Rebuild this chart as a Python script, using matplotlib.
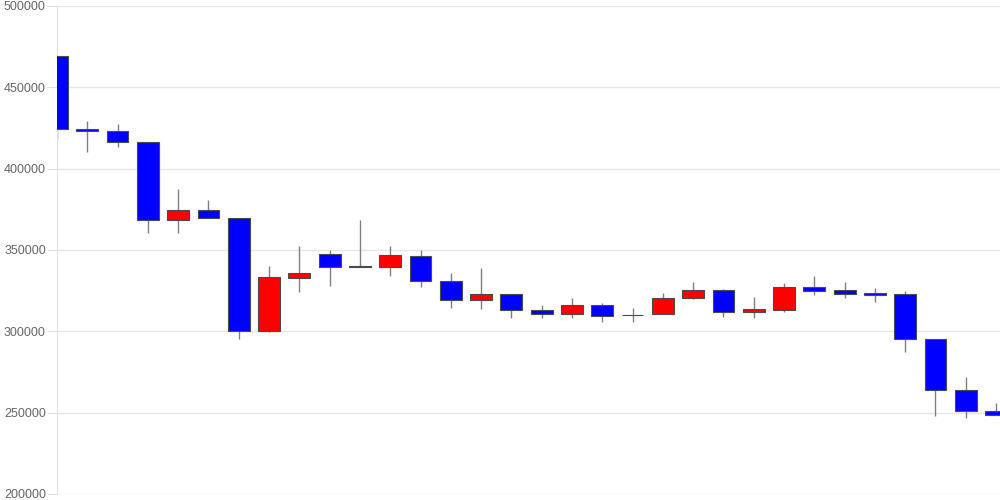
import matplotlib
matplotlib.use("Agg")
import matplotlib.pyplot as plt
import numpy as np

# OHLC values
opens = [469300, 424500, 423300, 416200, 368400, 374400, 369500, 300000,
         333000, 347500, 339800, 339800, 346500, 331000, 319500, 322800,
         313100, 310500, 316000, 310000, 310500, 320300, 325200, 311900,
         313300, 327200, 325400, 323300, 322900, 295000, 263700, 251200]
highs = [469300, 429300, 427600, 416200, 387500, 380700, 369500, 340200,
         352500, 350000, 368400, 352500, 350000, 335800, 339100, 322800,
         316200, 320300, 317200, 314200, 323700, 330100, 326000, 321100,
         329500, 334000, 330100, 326800, 324800, 295000, 271900, 255700]
lows = [417600, 410100, 413300, 360300, 360300, 369500, 295500, 299500,
        324400, 328000, 339300, 334000, 327000, 314200, 313500, 308000,
        308000, 308400, 305900, 305900, 310400, 319700, 309000, 308400,
        312000, 322500, 320700, 318200, 287500, 248100, 246900, 248400]
closes = [424200, 423200, 416200, 368400, 374400, 369500, 300000, 333200,
          335700, 339500, 340000, 346700, 331000, 319500, 322800, 313000,
          310500, 316000, 309600, 310300, 320300, 325200, 311900, 313500,
          327200, 325000, 323100, 322600, 295000, 263700, 251000, 248400]

UP_COLOR = "#ff0000"
DOWN_COLOR = "#0000ff"

plt.rcParams["font.family"] = ["Liberation Sans", "DejaVu Sans"]

fig = plt.figure(figsize=(10, 5), dpi=100)
ax = fig.add_axes([0.057, 0.012, 0.943, 0.976])

x = np.arange(len(opens))
o = np.array(opens)
c = np.array(closes)

# wicks
ax.vlines(x, lows, highs, color="#808080", linewidth=1, zorder=2)

# bodies
colors = [UP_COLOR if cl >= op else DOWN_COLOR for op, cl in zip(o, c)]
bottoms = np.minimum(o, c)
heights = np.maximum(np.abs(c - o), 300)
ax.bar(x, heights, bottom=bottoms, width=0.72, color=colors,
       edgecolor="#4a4a4a", linewidth=0.8, zorder=3)

ax.set_xlim(0, 31.13)
ax.set_ylim(200000, 500000)
ax.set_yticks(np.arange(200000, 500001, 50000))
ax.yaxis.set_major_formatter(matplotlib.ticker.FuncFormatter(lambda v, p: "%d" % v))
ax.set_xticks([])

ax.grid(axis="y", color="#e6e6e6", linewidth=1, zorder=0)
ax.tick_params(axis="y", length=7, color="#e0e0e0", labelcolor="#666666",
               labelsize=9, pad=1)

for side in ["top", "right", "bottom"]:
    ax.spines[side].set_visible(False)
ax.spines["left"].set_color("#e0e0e0")

fig.savefig("out.png", dpi=100)
